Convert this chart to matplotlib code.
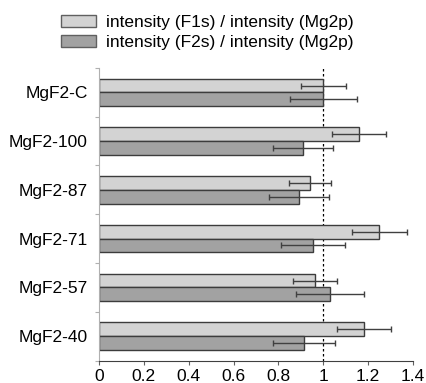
import numpy as np
import matplotlib.pyplot as plt
from matplotlib.patches import Patch

plt.rcParams['font.family'] = ['Liberation Sans', 'DejaVu Sans']

samples = ['MgF2-C', 'MgF2-100', 'MgF2-87', 'MgF2-71', 'MgF2-57', 'MgF2-40']
f1s = [1.00, 1.16, 0.94, 1.25, 0.965, 1.18]
f1s_err = [0.10, 0.12, 0.094, 0.124, 0.098, 0.12]
f2s = [1.00, 0.91, 0.89, 0.955, 1.03, 0.914]
f2s_err = [0.15, 0.135, 0.134, 0.143, 0.153, 0.137]
labels = ['intensity (F1s) / intensity (Mg2p)', 'intensity (F2s) / intensity (Mg2p)']

LIGHT = '#d3d3d3'
DARK = '#a2a2a2'
EDGE = '#3c3c3c'
FS = 12.5

fig = plt.figure(figsize=(4.26, 3.83), dpi=100)
ax = fig.add_axes([0.2324, 0.0587, 0.7371, 0.7638])

pos = np.arange(len(samples))[::-1]  # first sample at top
h = 0.28
err_kw = dict(ecolor='#404040', elinewidth=1.0, capsize=2.5, capthick=1.0)

ax.barh(pos + h / 2, f1s, height=h, xerr=f1s_err, color=LIGHT,
        edgecolor=EDGE, linewidth=1.0, error_kw=err_kw)
ax.barh(pos - h / 2, f2s, height=h, xerr=f2s_err, color=DARK,
        edgecolor=EDGE, linewidth=1.0, error_kw=err_kw)

ax.axvline(1.0, color='black', linestyle=(0, (2, 2)), linewidth=0.9, zorder=0)

ax.set_xlim(0, 1.4)
ax.set_ylim(-0.5, len(samples) - 0.5)
ax.set_xticks(np.arange(0, 1.41, 0.2))
ax.set_xticklabels(['0', '0.2', '0.4', '0.6', '0.8', '1', '1.2', '1.4'])

# category labels in the middle, ticks on the boundaries
ax.set_yticks(np.arange(-0.5, len(samples), 1.0))
ax.set_yticklabels([])
ax.set_yticks(pos, labels=samples, minor=True)
ax.tick_params(axis='y', which='minor', length=0, pad=8, labelsize=FS)
ax.tick_params(axis='y', which='major', length=3, color='#b0b0b0')
ax.tick_params(axis='x', length=3, color='#606060', labelsize=FS, pad=3)

for s in ['top', 'right']:
    ax.spines[s].set_visible(False)
ax.spines['left'].set_color('#b0b0b0')
ax.spines['bottom'].set_color('#404040')

handles = [Patch(facecolor=LIGHT, edgecolor='#606060', label=labels[0]),
           Patch(facecolor=DARK, edgecolor='#606060', label=labels[1])]
fig.legend(handles=handles, loc='upper left', bbox_to_anchor=(0.126, 0.98),
           frameon=False, fontsize=FS, handlelength=2.05, handleheight=0.68,
           handletextpad=0.55, labelspacing=0.3, borderaxespad=0)

fig.savefig('out.png', dpi=100)
